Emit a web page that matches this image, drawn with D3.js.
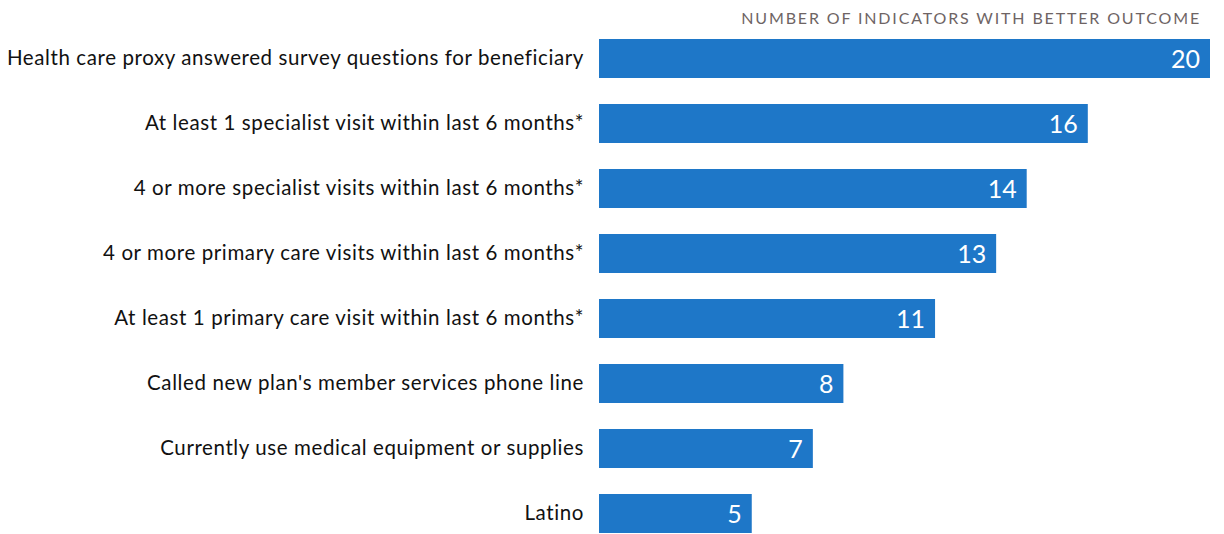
<!DOCTYPE html>
<meta charset="utf-8">
<script src="https://d3js.org/d3.v7.min.js"></script>
<style>
  body { margin: 0; background: #fff; }
</style>
<div id="chart"></div>
<script>

    // categories and values, top to bottom
    const categories = [
      "Health care proxy answered survey questions for beneficiary",
      "At least 1 specialist visit within last 6 months*",
      "4 or more specialist visits within last 6 months*",
      "4 or more primary care visits within last 6 months*",
      "At least 1 primary care visit within last 6 months*",
      "Called new plan's member services phone line",
      "Currently use medical equipment or supplies",
      "Latino"
    ];
    const values = [20, 16, 14, 13, 11, 8, 7, 5];
    const axisTitle = "NUMBER OF INDICATORS WITH BETTER OUTCOME";

    const width = 1224, height = 534;
    const left = 599, right = 1210;

    const svg = d3.select("#chart")
      .append("svg")
        .attr("width", width)
        .attr("height", height)
        .style("font-family", "Lato, 'Noto Sans', sans-serif");

    // x scale
    var x = d3.scaleLinear()
      .domain([0, 20])
      .range([left, right]);

    // y scale
    var y = d3.scaleBand()
      .domain(categories)
      .range([26, 546])
      .paddingInner(0.4)
      .paddingOuter(0.2);

    // title top right
    svg.append("text")
        .attr("x", 1201)
        .attr("y", 24)
        .attr("text-anchor", "end")
        .attr("fill", "#6e6464")
        .attr("font-size", 16)
        .attr("letter-spacing", "1.85px")
        .text(axisTitle);

    // bars
    svg.append("g")
      .selectAll("rect")
      .data(values)
      .enter()
      .append("rect")
        .attr("x", x(0))
        .attr("y", (d, i) => y(categories[i]))
        .attr("width", d => x(d) - x(0))
        .attr("height", y.bandwidth())
        .attr("fill", "#1e77c8");

    // value labels inside bars
    svg.append("g")
      .selectAll("text")
      .data(values)
      .enter()
      .append("text")
        .attr("x", d => x(d) - 10)
        .attr("y", (d, i) => y(categories[i]) + y.bandwidth() / 2)
        .attr("dy", "0.36em")
        .attr("text-anchor", "end")
        .attr("fill", "white")
        .attr("font-size", 25)
        .text(d => d);

    // category labels
    svg.append("g")
      .selectAll("text")
      .data(categories)
      .enter()
      .append("text")
        .attr("x", x(0) - 15)
        .attr("y", d => y(d) + y.bandwidth() / 2)
        .attr("dy", "0.34em")
        .attr("text-anchor", "end")
        .attr("fill", "#111")
        .attr("font-size", 20.5)
        .attr("letter-spacing", "0.6px")
        .text(d => d);

</script>
